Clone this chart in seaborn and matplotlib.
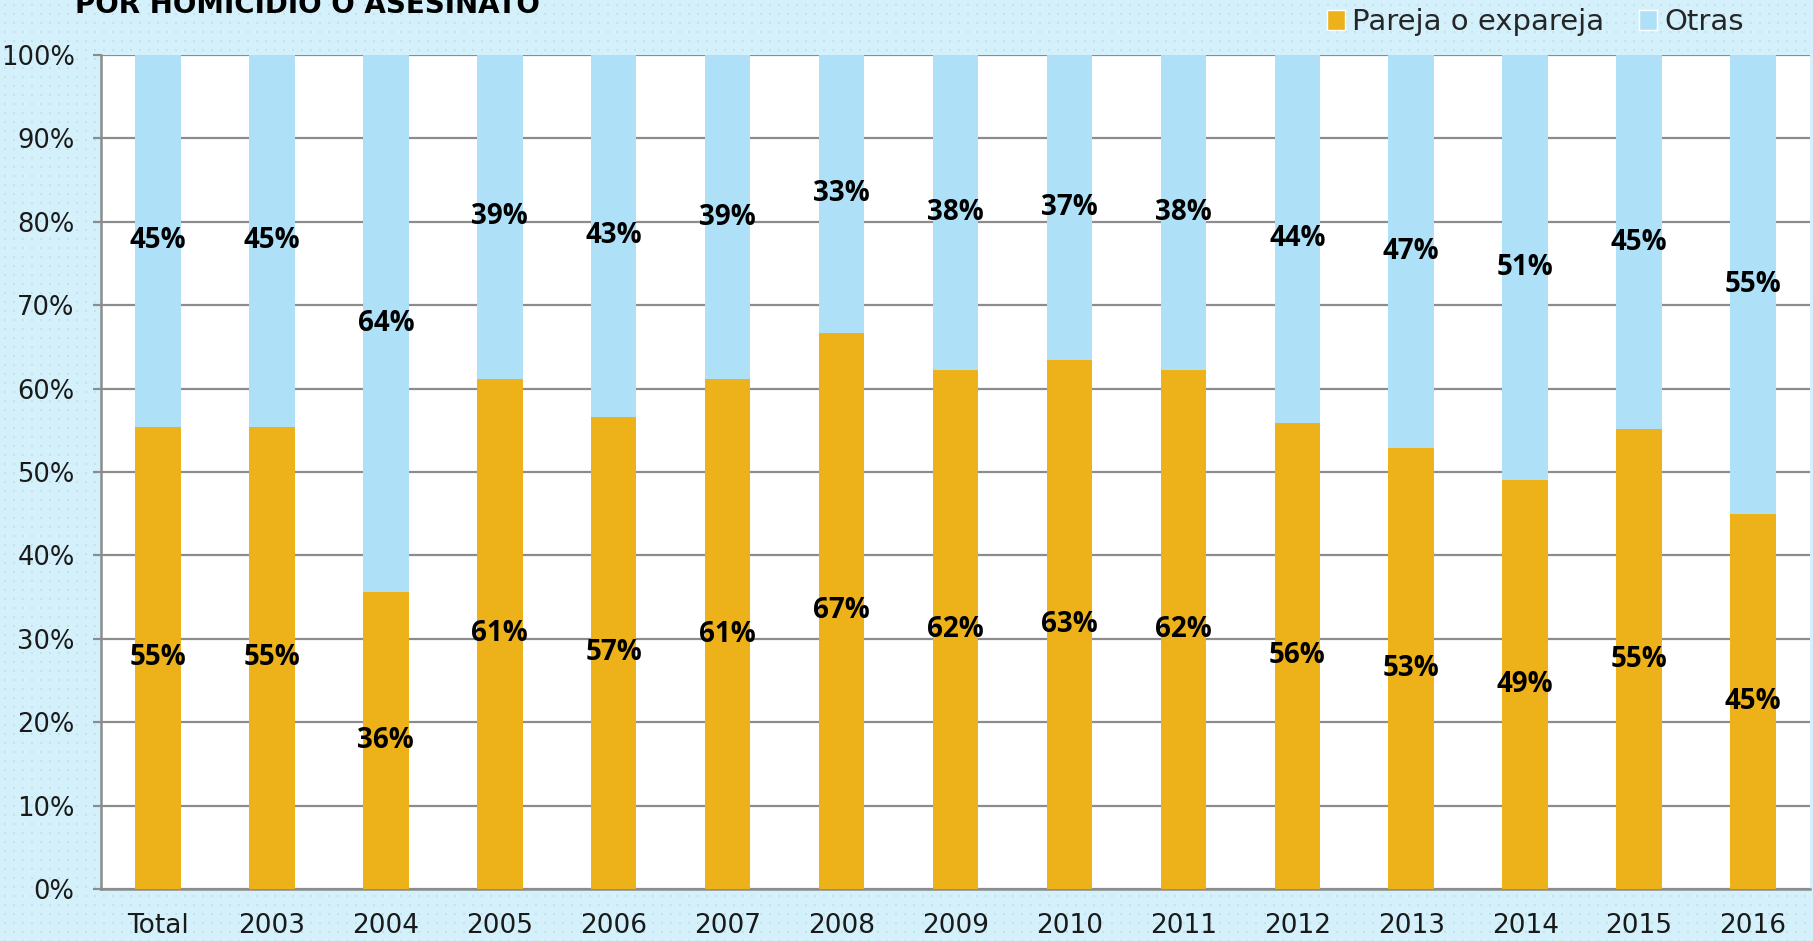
import numpy as np
import pandas as pd
import matplotlib.pyplot as plt
import seaborn as sns
from matplotlib.patches import Patch

categories = ['Total', '2003', '2004', '2005', '2006', '2007', '2008', '2009',
              '2010', '2011', '2012', '2013', '2014', '2015', '2016']
pareja = [55.4, 55.4, 35.6, 61.2, 56.6, 61.1, 66.7, 62.2, 63.4, 62.2, 55.9, 52.9, 49.1, 55.1, 45.0]
otras = [44.6, 44.6, 64.4, 38.8, 43.4, 38.9, 33.3, 37.8, 36.6, 37.8, 44.1, 47.1, 50.9, 44.9, 55.0]

orange = '#EDB11A'
blue = '#AEE1F8'
bg = '#D4F1FB'

df = pd.DataFrame({'cat': categories, 'pareja': pareja, 'otras': otras})
df['total'] = df['pareja'] + df['otras']

sns.set_style('white')
plt.rcParams['font.family'] = ['DejaVu Sans']

fig = plt.figure(figsize=(18.13, 9.41), dpi=100)
fig.patch.set_facecolor(bg)

# dotted background texture
bgax = fig.add_axes([0, 0, 1, 1], zorder=-10)
h, w = 941, 1813
tex = np.zeros((h, w))
tex[4::9, 4::9] = 1
tex[5::9, 4::9] = 1
tex[4::9, 5::9] = 1
tex[5::9, 5::9] = 1
bgax.imshow(tex, cmap=sns.blend_palette([bg, '#C3E2EE'], as_cmap=True),
            aspect='auto', interpolation='nearest')
bgax.axis('off')

ax = fig.add_axes([101 / 1813, 1 - 889 / 941, (1810 - 101) / 1813, (889 - 55) / 941])
ax.set_facecolor('white')

sns.barplot(data=df, x='cat', y='total', color=blue, width=0.4,
            saturation=1, linewidth=0, ax=ax, zorder=2)
sns.barplot(data=df, x='cat', y='pareja', color=orange, width=0.4,
            saturation=1, linewidth=0, ax=ax, zorder=3)

# labels
lab_font = dict(family='Open Sans', fontsize=20, fontweight='bold', color='black',
                ha='center', va='center', zorder=5)
for i, (p, o) in enumerate(zip(pareja, otras)):
    ax.text(i, p / 2, f'{round(p):.0f}%', **lab_font)
    ax.text(i, p + o / 2, f'{round(o):.0f}%', **lab_font)

ax.set_xlim(-0.5, 14.5)
ax.set_ylim(0, 100)
ax.set_yticks(np.arange(0, 101, 10))
ax.set_yticklabels([f'{v}%' for v in range(0, 101, 10)])
ax.yaxis.grid(True, color='#8C8C8C', linewidth=1.6)
ax.set_axisbelow(True)

ax.set_xticks(np.arange(-0.5, 15, 1))
ax.set_xticklabels([])
ax.set_xticks(np.arange(15), minor=True)
ax.set_xticklabels(categories, minor=True)
ax.tick_params(axis='x', which='major', length=6, width=1.6, color='#8C8C8C', direction='out')
ax.tick_params(axis='x', which='minor', length=0, pad=17, labelsize=19, labelcolor='#1a1a1a')
ax.tick_params(axis='y', length=6, width=1.6, color='#8C8C8C', pad=13,
               labelsize=18.5, labelcolor='#1a1a1a', left=True)
ax.set_xlabel('')
ax.set_ylabel('')

for s in ['top', 'right']:
    ax.spines[s].set_visible(False)
for s in ['left', 'bottom']:
    ax.spines[s].set_color('#8C8C8C')
    ax.spines[s].set_linewidth(1.8)

fig.text(75 / 1813, 1 - 13 / 941, 'POR HOMICIDIO O ASESINATO', fontsize=20,
         fontweight='bold', ha='left', va='baseline', color='black')

handles = [Patch(facecolor=orange, label='Pareja o expareja'),
           Patch(facecolor=blue, label='Otras')]
fig.legend(handles=handles, loc='center right', bbox_to_anchor=(1758 / 1813, 1 - 22 / 941),
           ncol=2, frameon=False, fontsize=21, handlelength=0.6, handleheight=0.7,
           handletextpad=0.25, columnspacing=1.2, borderpad=0)

fig.savefig('out.png', dpi=100, facecolor=bg)
